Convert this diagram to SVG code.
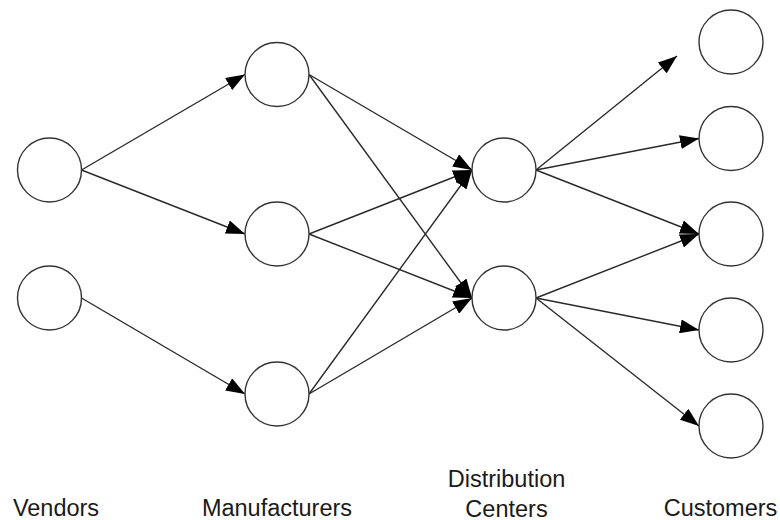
<svg xmlns="http://www.w3.org/2000/svg" width="780" height="520" viewBox="0 0 780 520">
<defs>
<style>
.node{fill:#fff;stroke:#333;stroke-width:1.4}
.edge{fill:none;stroke:#2a2a2a;stroke-width:1.4;marker-end:url(#arrow)}
.label{font-family:"Liberation Sans",Arial,sans-serif;font-size:23.5px;fill:#1a1a1a;text-anchor:middle}
</style>
<marker id="arrow" viewBox="0 0 19 14" refX="19" refY="7" markerWidth="19" markerHeight="14" markerUnits="userSpaceOnUse" orient="auto">
<path d="M0,0 L19,7 L0,14 z" fill="#000"/>
</marker>
</defs>
<rect width="780" height="520" fill="#fff"/>
<g id="connectors">
<line class="edge" x1="81.5" y1="170" x2="245" y2="74.5"/>
<line class="edge" x1="81.5" y1="170" x2="245" y2="234"/>
<line class="edge" x1="81.5" y1="298" x2="245" y2="394"/>
<line class="edge" x1="309" y1="74.5" x2="472" y2="170"/>
<line class="edge" x1="309" y1="74.5" x2="472" y2="298"/>
<line class="edge" x1="309" y1="234" x2="472" y2="170"/>
<line class="edge" x1="309" y1="234" x2="472" y2="298"/>
<line class="edge" x1="309" y1="394" x2="472" y2="170"/>
<line class="edge" x1="309" y1="394" x2="472" y2="298"/>
<line class="edge" x1="536" y1="170" x2="677" y2="56"/>
<line class="edge" x1="536" y1="170" x2="699" y2="138.5"/>
<line class="edge" x1="536" y1="170" x2="699" y2="234"/>
<line class="edge" x1="536" y1="298" x2="699" y2="234"/>
<line class="edge" x1="536" y1="298" x2="699" y2="330"/>
<line class="edge" x1="536" y1="298" x2="699" y2="426"/>
</g>
<g id="vendor1"><circle class="node" cx="49.5" cy="170" r="32"/></g>
<g id="vendor2"><circle class="node" cx="49.5" cy="298" r="32"/></g>
<g id="manufacturer1"><circle class="node" cx="277" cy="74.5" r="32"/></g>
<g id="manufacturer2"><circle class="node" cx="277" cy="234" r="32"/></g>
<g id="manufacturer3"><circle class="node" cx="277" cy="394" r="32"/></g>
<g id="distribution1"><circle class="node" cx="504" cy="170" r="32"/></g>
<g id="distribution2"><circle class="node" cx="504" cy="298" r="32"/></g>
<g id="customer1"><circle class="node" cx="731" cy="42" r="32"/></g>
<g id="customer2"><circle class="node" cx="731" cy="138.5" r="32"/></g>
<g id="customer3"><circle class="node" cx="731" cy="234" r="32"/></g>
<g id="customer4"><circle class="node" cx="731" cy="330" r="32"/></g>
<g id="customer5"><circle class="node" cx="731" cy="426" r="32"/></g>
<g id="labels">
<text class="label" x="56" y="516">Vendors</text>
<text class="label" x="277" y="516">Manufacturers</text>
<text class="label" x="506.5" y="487">Distribution</text>
<text class="label" x="506.5" y="516.5">Centers</text>
<text class="label" x="720.5" y="516">Customers</text>
</g>
</svg>
